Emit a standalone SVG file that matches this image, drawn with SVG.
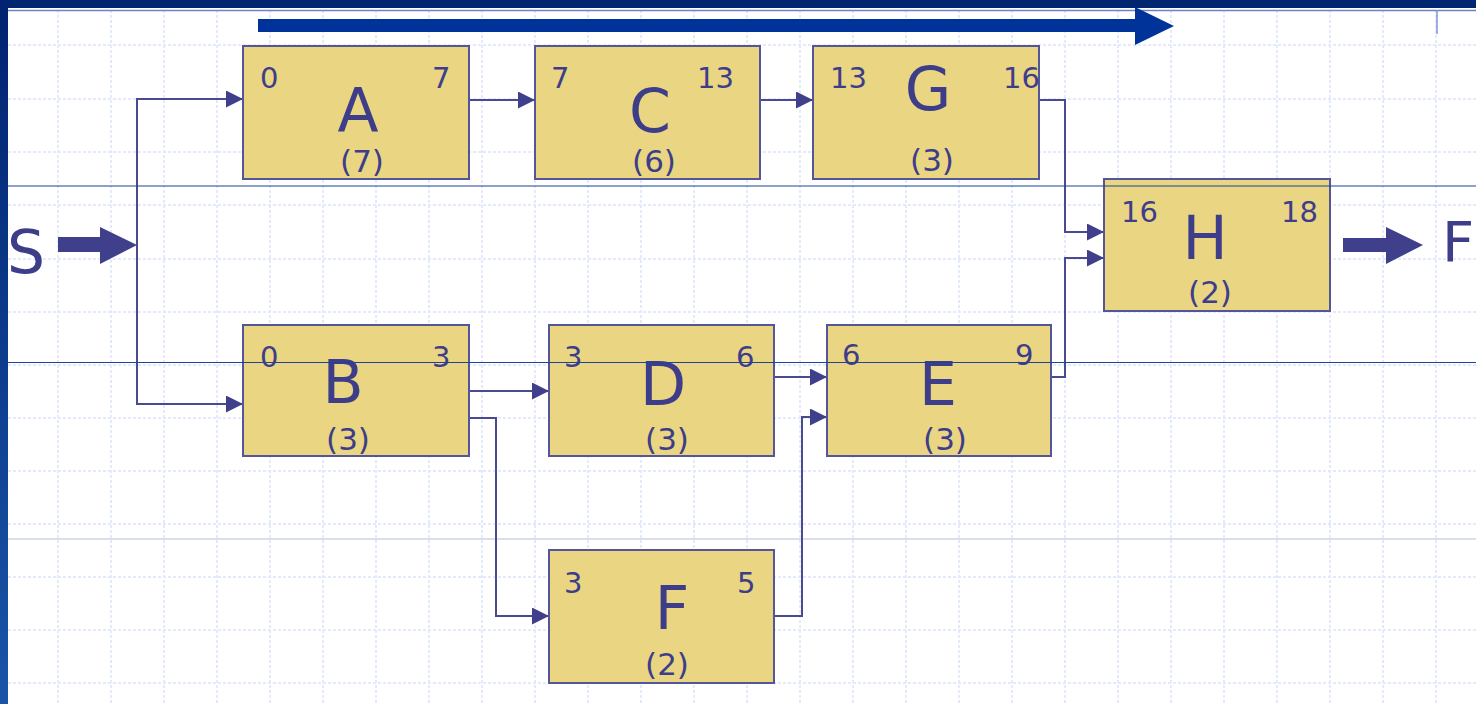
<svg xmlns="http://www.w3.org/2000/svg" width="1476" height="704" viewBox="0 0 1476 704">
<defs>
<linearGradient id="lbar" x1="0" y1="0" x2="0" y2="1">
<stop offset="0" stop-color="#002270"/>
<stop offset="1" stop-color="#1a55a8"/>
</linearGradient>
<marker id="ah" markerWidth="17" markerHeight="17" refX="17" refY="8.5" orient="auto" markerUnits="userSpaceOnUse">
<path d="M0,0 L17,8.5 L0,17 Z" fill="#3f3f8c"/>
</marker>
<style>
.grid line{stroke:#e3eafc;stroke-width:2;stroke-dasharray:3 2}
.box{fill:#e9d582;stroke:#55559a;stroke-width:2}
.t{font-family:"DejaVu Sans","Liberation Sans",sans-serif;fill:#3d3d8a}
.num{font-size:29px}
.big{font-size:60px;text-anchor:middle}
.dur{font-size:31px;text-anchor:middle}
.conn path{fill:none;stroke:#4a4a92;stroke-width:2;marker-end:url(#ah)}
.blk{fill:#3f3f8c}
</style>
</defs>
<rect x="0" y="0" width="1476" height="704" fill="#ffffff"/>
<g class="grid">
<line x1="58" y1="10" x2="58" y2="704"/><line x1="111" y1="10" x2="111" y2="704"/><line x1="164" y1="10" x2="164" y2="704"/><line x1="217" y1="10" x2="217" y2="704"/><line x1="270" y1="10" x2="270" y2="704"/><line x1="323" y1="10" x2="323" y2="704"/><line x1="376" y1="10" x2="376" y2="704"/><line x1="429" y1="10" x2="429" y2="704"/><line x1="482" y1="10" x2="482" y2="704"/><line x1="535" y1="10" x2="535" y2="704"/><line x1="588" y1="10" x2="588" y2="704"/><line x1="641" y1="10" x2="641" y2="704"/><line x1="694" y1="10" x2="694" y2="704"/><line x1="747" y1="10" x2="747" y2="704"/><line x1="800" y1="10" x2="800" y2="704"/><line x1="853" y1="10" x2="853" y2="704"/><line x1="906" y1="10" x2="906" y2="704"/><line x1="959" y1="10" x2="959" y2="704"/><line x1="1012" y1="10" x2="1012" y2="704"/><line x1="1065" y1="10" x2="1065" y2="704"/><line x1="1118" y1="10" x2="1118" y2="704"/><line x1="1171" y1="10" x2="1171" y2="704"/><line x1="1224" y1="10" x2="1224" y2="704"/><line x1="1277" y1="10" x2="1277" y2="704"/><line x1="1330" y1="10" x2="1330" y2="704"/><line x1="1383" y1="10" x2="1383" y2="704"/><line x1="1436" y1="10" x2="1436" y2="704"/>
<line x1="8" y1="45" x2="1476" y2="45"/><line x1="8" y1="99" x2="1476" y2="99"/><line x1="8" y1="152" x2="1476" y2="152"/><line x1="8" y1="205" x2="1476" y2="205"/><line x1="8" y1="259" x2="1476" y2="259"/><line x1="8" y1="312" x2="1476" y2="312"/><line x1="8" y1="365" x2="1476" y2="365"/><line x1="8" y1="418" x2="1476" y2="418"/><line x1="8" y1="471" x2="1476" y2="471"/><line x1="8" y1="524" x2="1476" y2="524"/><line x1="8" y1="577" x2="1476" y2="577"/><line x1="8" y1="630" x2="1476" y2="630"/><line x1="8" y1="683" x2="1476" y2="683"/>
</g>
<rect x="0" y="0" width="1476" height="8" fill="#002672"/>
<rect x="0" y="0" width="8" height="704" fill="url(#lbar)"/>
<line x1="8" y1="10.5" x2="1476" y2="10.5" stroke="#6b83c2" stroke-width="1.5"/>
<line x1="1437" y1="10" x2="1437" y2="34" stroke="#7a94e0" stroke-width="1.5"/>
<line x1="8" y1="539" x2="1476" y2="539" stroke="#cdd5e5" stroke-width="1.5"/>
<path d="M258,19 H1135 V7 L1174,26 L1135,45 V32 H258 Z" fill="#003399"/>
<g class="conn">
<path d="M137,245 V99 H243"/>
<path d="M137,245 V404 H243"/>
<path d="M469,100 H535"/>
<path d="M760,100 H813"/>
<path d="M1039,100 H1065 V232 H1104"/>
<path d="M1052,377 H1065 V258 H1104"/>
<path d="M469,391 H549"/>
<path d="M469,418 H496 V616 H549"/>
<path d="M774,377 H827"/>
<path d="M774,616 H802 V417 H827"/>
</g>
<g id="start">
<text class="t" x="7" y="273" font-size="60">S</text>
<path class="blk" d="M58,237 H100 V227 L137,245 L100,264 V252 H58 Z"/>
</g>
<g id="finish">
<path class="blk" d="M1343,238 H1386 V227 L1423,245 L1386,264 V252 H1343 Z"/>
<text class="t" x="1442" y="261" font-size="56">F</text>
</g>
<g id="node-A">
<rect class="box" x="243" y="46" width="226" height="133"/>
<text class="t num" x="260" y="88">0</text><text class="t num" x="432" y="88">7</text>
<text class="t big" x="358" y="131">A</text><text class="t dur" x="362" y="172">(7)</text>
</g>
<g id="node-C">
<rect class="box" x="535" y="46" width="225" height="133"/>
<text class="t num" x="551" y="88">7</text><text class="t num" x="697" y="88">13</text>
<text class="t big" x="650" y="132">C</text><text class="t dur" x="654" y="172">(6)</text>
</g>
<g id="node-G">
<rect class="box" x="813" y="46" width="226" height="133"/>
<text class="t num" x="830" y="88">13</text><text class="t num" x="1003" y="88">16</text>
<text class="t big" x="928" y="110">G</text><text class="t dur" x="932" y="171">(3)</text>
</g>
<g id="node-H">
<rect class="box" x="1104" y="179" width="226" height="132"/>
<text class="t num" x="1121" y="222">16</text><text class="t num" x="1281" y="222">18</text>
<text class="t big" x="1205" y="259">H</text><text class="t dur" x="1210" y="303">(2)</text>
</g>
<g id="node-B">
<rect class="box" x="243" y="325" width="226" height="131"/>
<text class="t num" x="260" y="367">0</text><text class="t num" x="432" y="367">3</text>
<text class="t big" x="343" y="403">B</text><text class="t dur" x="348" y="450">(3)</text>
</g>
<g id="node-D">
<rect class="box" x="549" y="325" width="225" height="131"/>
<text class="t num" x="564" y="367">3</text><text class="t num" x="736" y="367">6</text>
<text class="t big" x="663" y="405">D</text><text class="t dur" x="667" y="450">(3)</text>
</g>
<g id="node-E">
<rect class="box" x="827" y="325" width="224" height="131"/>
<text class="t num" x="842" y="365">6</text><text class="t num" x="1015" y="365">9</text>
<text class="t big" x="938" y="405">E</text><text class="t dur" x="945" y="450">(3)</text>
</g>
<g id="node-F">
<rect class="box" x="549" y="550" width="225" height="133"/>
<text class="t num" x="564" y="593">3</text><text class="t num" x="737" y="593">5</text>
<text class="t big" x="672" y="629">F</text><text class="t dur" x="667" y="675">(2)</text>
</g>
<line x1="8" y1="186" x2="1476" y2="186" stroke="#1f4496" stroke-width="1.2"/>
<line x1="8" y1="362.5" x2="1476" y2="362.5" stroke="#1f4496" stroke-width="1.2"/>
</svg>
